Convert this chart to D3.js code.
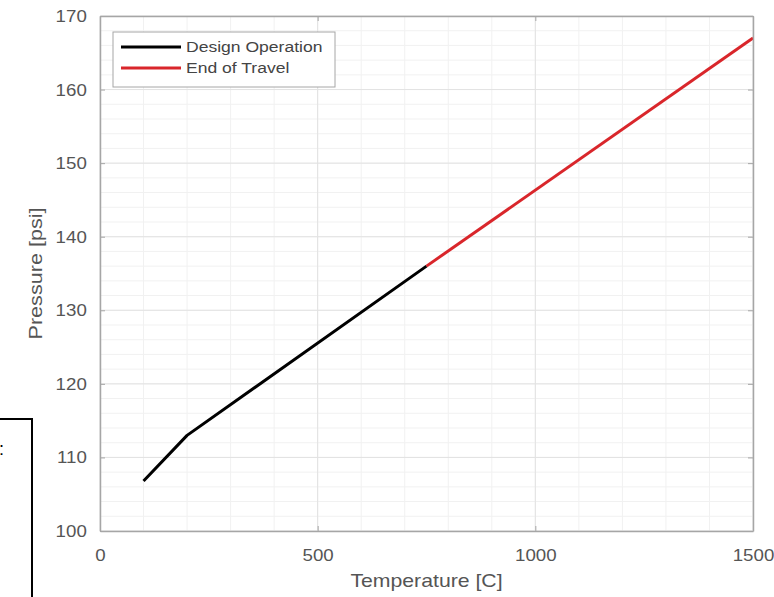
<!DOCTYPE html>
<html>
<head>
<meta charset="utf-8">
<script src="https://cdn.jsdelivr.net/npm/d3@7"></script>
<style>
  html, body { margin: 0; padding: 0; background: #fff; }
  svg { display: block; }
  text { font-family: "Liberation Sans", Arial, Helvetica, sans-serif; }
</style>
</head>
<body>
<svg id="chart" width="774" height="597"></svg>
<script>
// ---- data ----
const designTemp = [100, 200, 750];
const designPressure = [106.8, 113, 136];
const travelTemp = [750, 1500];
const travelPressure = [136, 167];
const xTicks = [0, 500, 1000, 1500];
const yTicks = [100, 110, 120, 130, 140, 150, 160, 170];
const xMinor = d3.range(0, 1501, 100);
const yMinor = d3.range(100, 171, 2);
const seriesNames = ["Design Operation", "End of Travel"];
const seriesColors = ["#000000", "#d9262b"];

// ---- layout ----
const W = 774, H = 597;
const L = 100, R = 753, T = 16, B = 531;
const svg = d3.select("#chart");
svg.append("rect").attr("width", W).attr("height", H).attr("fill", "#fff");

const x = d3.scaleLinear().domain([0, 1500]).range([L, R]);
const y = d3.scaleLinear().domain([100, 170]).range([B, T]);

// grid
const grid = svg.append("g");
grid.selectAll(".xm").data(xMinor).join("line")
  .attr("x1", d => x(d)).attr("x2", d => x(d)).attr("y1", T).attr("y2", B)
  .attr("stroke", "#f1f1f1").attr("stroke-width", 1);
grid.selectAll(".ym").data(yMinor).join("line")
  .attr("y1", d => y(d)).attr("y2", d => y(d)).attr("x1", L).attr("x2", R)
  .attr("stroke", "#f1f1f1").attr("stroke-width", 1);
grid.selectAll(".xg").data(xTicks).join("line")
  .attr("x1", d => x(d)).attr("x2", d => x(d)).attr("y1", T).attr("y2", B)
  .attr("stroke", "#e2e2e2").attr("stroke-width", 1);
grid.selectAll(".yg").data(yTicks).join("line")
  .attr("y1", d => y(d)).attr("y2", d => y(d)).attr("x1", L).attr("x2", R)
  .attr("stroke", "#e2e2e2").attr("stroke-width", 1);

// data lines
const line = d3.line().x(d => x(d[0])).y(d => y(d[1]));
const designPts = designTemp.map((t, i) => [t, designPressure[i]]);
const travelPts = travelTemp.map((t, i) => [t, travelPressure[i]]);
svg.append("path").datum(designPts).attr("d", line)
  .attr("fill", "none").attr("stroke", seriesColors[0]).attr("stroke-width", 3)
  .attr("stroke-linejoin", "round");
svg.append("path").datum(travelPts).attr("d", line)
  .attr("fill", "none").attr("stroke", seriesColors[1]).attr("stroke-width", 3)
  .attr("stroke-linejoin", "round");

// axes
const axColor = "#a6a6a6";
const txtColor = "#555";
function styleAxis(g) {
  g.select(".domain").attr("stroke", axColor).attr("stroke-width", 1.5);
  g.selectAll(".tick line").attr("stroke", axColor).attr("stroke-width", 1);
  g.selectAll(".tick text").attr("fill", txtColor).attr("font-size", 17);
}
const gx = svg.append("g").attr("transform", `translate(0,${B})`)
  .call(d3.axisBottom(x).tickValues(xTicks).tickSizeInner(-5).tickSizeOuter(0).tickPadding(18).tickFormat(d3.format("d")));
styleAxis(gx);
gx.selectAll(".tick text").attr("transform", "scale(1.1,1)")
  .each(function() { const t = d3.select(this.parentNode); });
// adjust stretched text positions: scale around own anchor
gx.selectAll(".tick text").attr("transform", null).each(function() {
  d3.select(this).attr("transform", "scale(1.1,1)");
});
const gy = svg.append("g").attr("transform", `translate(${L},0)`)
  .call(d3.axisLeft(y).tickValues(yTicks).tickSizeInner(-5).tickSizeOuter(0).tickPadding(12).tickFormat(d3.format("d")));
styleAxis(gy);
gy.selectAll(".tick text").attr("transform", "scale(1.1,1)");
const gt = svg.append("g").attr("transform", `translate(0,${T})`)
  .call(d3.axisTop(x).tickValues(xTicks).tickSizeInner(-5).tickSizeOuter(0).tickFormat(""));
styleAxis(gt);
const gr = svg.append("g").attr("transform", `translate(${R},0)`)
  .call(d3.axisRight(y).tickValues(yTicks).tickSizeInner(-5).tickSizeOuter(0).tickFormat(""));
styleAxis(gr);

// axis labels
svg.append("text").attr("transform", `translate(${(L + R) / 2},${587}) scale(1.18,1)`)
  .attr("text-anchor", "middle").attr("font-size", 18).attr("fill", txtColor)
  .text("Temperature [C]");
svg.append("text").attr("transform", `translate(42,${(T + B) / 2}) rotate(-90) scale(1.2,1)`)
  .attr("text-anchor", "middle").attr("font-size", 18).attr("fill", txtColor)
  .text("Pressure [psi]");

// legend
const lg = svg.append("g");
lg.append("rect").attr("x", 113).attr("y", 32).attr("width", 222).attr("height", 55)
  .attr("fill", "#fff").attr("stroke", "#a6a6a6").attr("stroke-width", 1);
seriesNames.forEach((name, i) => {
  const yy = 47 + i * 21;
  lg.append("line").attr("x1", 121).attr("x2", 181).attr("y1", yy).attr("y2", yy)
    .attr("stroke", seriesColors[i]).attr("stroke-width", 3);
  lg.append("text").attr("transform", `translate(186,${yy + 5}) scale(1.17,1)`)
    .attr("font-size", 15).attr("fill", "#444").text(name);
});

// stray box at lower left
svg.append("rect").attr("x", -5).attr("y", 419).attr("width", 37).attr("height", 190)
  .attr("fill", "none").attr("stroke", "#000").attr("stroke-width", 2);
svg.append("text").attr("x", -1).attr("y", 455).attr("font-size", 18).attr("fill", "#000").text(":");
</script>
</body>
</html>
